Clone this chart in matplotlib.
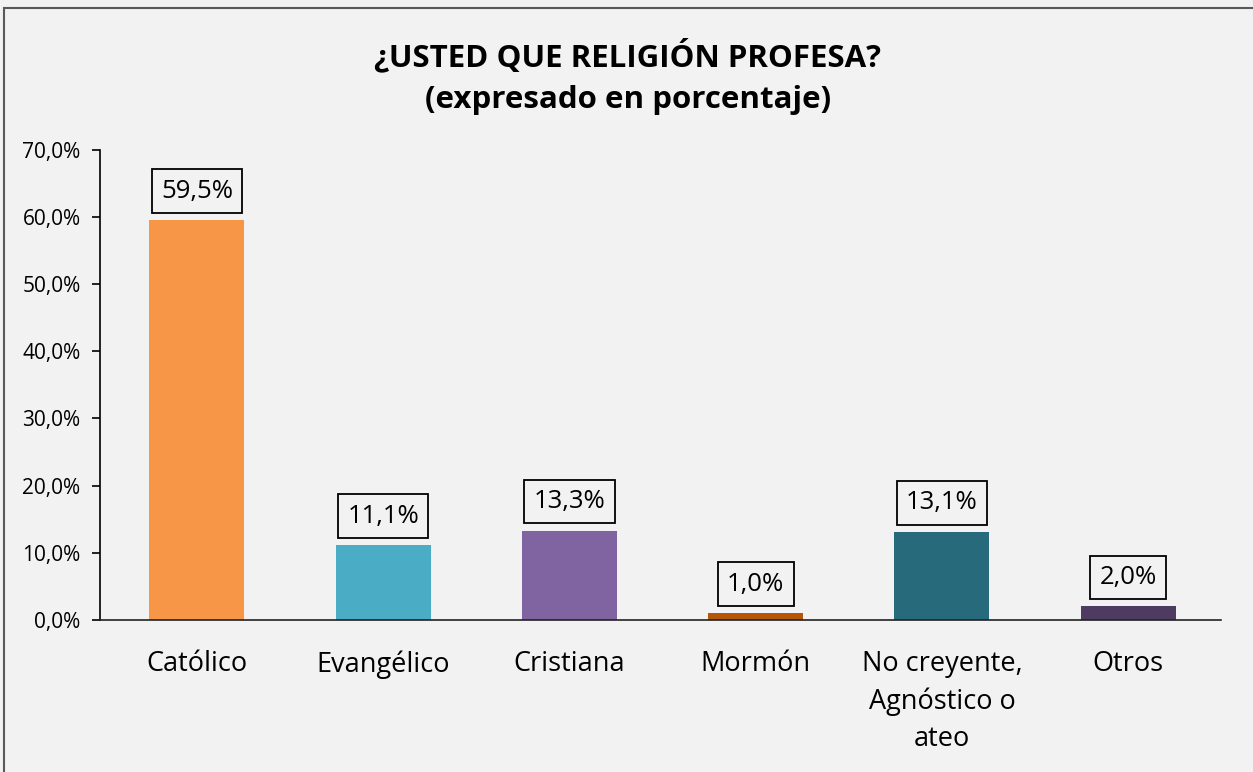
import matplotlib
matplotlib.use("Agg")
from matplotlib import pyplot as plt
from matplotlib.patches import Rectangle
from matplotlib.ticker import FuncFormatter

plt.rcParams['font.family'] = ['Open Sans', 'DejaVu Sans']

categorias = ["Católico", "Evangélico", "Cristiana", "Mormón",
              "No creyente,\nAgnóstico o\nateo", "Otros"]
porcentajes = [59.5, 11.1, 13.3, 1.0, 13.1, 2.0]
colores = ["#f79646", "#4bacc6", "#8064a2", "#b65708", "#276a7c", "#4d3b62"]

fondo = "#f2f2f2"
fig = plt.figure(figsize=(12.53, 7.72), dpi=100, facecolor=fondo)
ax = fig.add_axes([0.0798, 0.197, 0.895, 0.609])
ax.set_facecolor(fondo)

x = range(len(categorias))
ax.bar(x, porcentajes, width=0.51, color=colores)

for a, b in zip(x, porcentajes):
    ax.annotate(f"{b:.1f}%".replace(".", ","), (a, b), xytext=(0, 12),
                textcoords='offset points', ha='center', va='bottom', fontsize=18.5,
                bbox=dict(boxstyle='square,pad=0.36', facecolor=fondo,
                          edgecolor='black', linewidth=1.3))

ax.set_xlim(-0.52, 5.5)
ax.set_ylim(0, 70)
ax.set_yticks(range(0, 71, 10))
ax.yaxis.set_major_formatter(FuncFormatter(lambda v, p: f"{v:.1f}%".replace(".", ",")))
ax.set_xticks(list(x))
ax.set_xticklabels(categorias, fontsize=19.5, linespacing=1.42, va='top')
ax.tick_params(axis='x', length=0, pad=22)
ax.tick_params(axis='y', labelsize=15, length=6, width=1.2, pad=8)

for s in ['top', 'right']:
    ax.spines[s].set_visible(False)
ax.spines['left'].set_linewidth(1.2)
ax.spines['bottom'].set_linewidth(1.2)
ax.spines['bottom'].set_color('#222222')

fig.text(0.501, 0.928, "¿USTED QUE RELIGIÓN PROFESA?", ha='center', va='center',
         fontsize=22.5, fontweight='bold')
fig.text(0.501, 0.870, "(expresado en porcentaje)", ha='center', va='center',
         fontsize=22.5, fontweight='bold')

fig.patches.append(Rectangle((0.003, -0.01), 1.1, 1.0, transform=fig.transFigure,
                             fill=False, edgecolor='#595959', linewidth=1.5))

fig.savefig("out.png", dpi=100, facecolor=fondo)
